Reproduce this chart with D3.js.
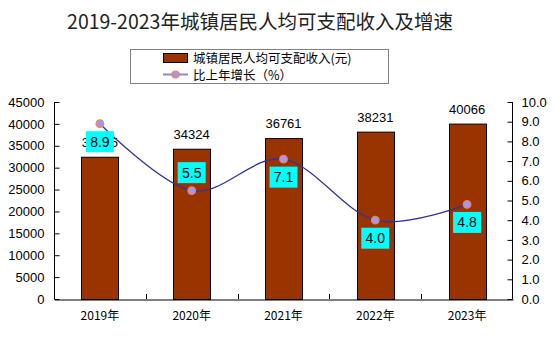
<!DOCTYPE html>
<html><head><meta charset="utf-8">
<script src="https://cdn.jsdelivr.net/npm/d3@7"></script>
<style>
html,body{margin:0;padding:0;background:#fff;}
svg{display:block;}
text{font-family:"Liberation Sans",Arial,"Noto Sans CJK SC",sans-serif;}
.cjk{font-family:"Noto Sans CJK SC","Liberation Sans",sans-serif;}
</style></head>
<body>
<script>
const categories = ["2019年","2020年","2021年","2022年","2023年"];
const incomeValues = [32495, 34324, 36761, 38231, 40066];
const growthValues = [8.9, 5.5, 7.1, 4.0, 4.8];
const leftTicks = [0,5000,10000,15000,20000,25000,30000,35000,40000,45000];
const rightTicks = [0,1,2,3,4,5,6,7,8,9,10];
const growthLabelPos = ["below","above","below","below","below"];
const titleText = "2019-2023年城镇居民人均可支配收入及增速";
const legendIncome = "城镇居民人均可支配收入(元)";
const legendGrowth = "比上年增长（%）";

const W = 555, H = 340;
const m = {left:54, right:42, top:102, bottom:41};
const svg = d3.select("body").append("svg").attr("width",W).attr("height",H);

const x = d3.scaleBand().domain(categories).range([m.left, W-m.right]).padding(0);
const yL = d3.scaleLinear().domain([0,45000]).range([H-m.bottom, m.top]);
const yR = d3.scaleLinear().domain([0,10]).range([H-m.bottom, m.top]);

// title
svg.append("text").attr("class","cjk").attr("x",260).attr("y",29)
  .attr("text-anchor","middle").attr("font-size",19.5).attr("fill","#222")
  .text(titleText);

// legend
const lg = svg.append("g");
lg.append("rect").attr("x",130.5).attr("y",49.5).attr("width",258).attr("height",34)
  .attr("fill","none").attr("stroke","#000").attr("stroke-dasharray","1,1");
lg.append("rect").attr("x",163.5).attr("y",53.5).attr("width",24).attr("height",9)
  .attr("fill","#993300").attr("stroke","#000");
lg.append("text").attr("class","cjk").attr("x",193).attr("y",62.5).attr("font-size",12.5).text(legendIncome);
lg.append("line").attr("x1",163).attr("x2",188).attr("y1",74.5).attr("y2",74.5)
  .attr("stroke","#8a86d6").attr("stroke-width",2);
lg.append("circle").attr("cx",175.5).attr("cy",74.5).attr("r",3.5)
  .attr("fill","#9999ff").attr("stroke","#ff7f3f").attr("stroke-width",1.2);
lg.append("text").attr("class","cjk").attr("x",193).attr("y",79.5).attr("font-size",12.5).text(legendGrowth);

// bars
const bw = 37;
svg.append("g").selectAll("rect").data(incomeValues).join("rect")
  .attr("x",(d,i)=>Math.round(x(categories[i])+x.bandwidth()/2-bw/2)+0.5)
  .attr("y",d=>yL(d)+0.5)
  .attr("width",bw)
  .attr("height",d=>yL(0)-yL(d))
  .attr("fill","#993300").attr("stroke","#000").attr("stroke-width",1);

// bar value labels
svg.append("g").selectAll("text").data(incomeValues).join("text")
  .attr("x",(d,i)=>x(categories[i])+x.bandwidth()/2)
  .attr("y",d=>yL(d)-10)
  .attr("text-anchor","middle").attr("font-size",13).attr("fill","#000")
  .text(d=>d);

// axes
const axL = d3.axisLeft(yL).tickValues(leftTicks).tickSize(-5).tickPadding(10).tickFormat(d3.format("d"));
const gL = svg.append("g").attr("transform",`translate(${m.left+0.5},0)`).call(axL);
const axR = d3.axisRight(yR).tickValues(rightTicks).tickSize(-5).tickPadding(9).tickFormat(d3.format(".1f"));
const gR = svg.append("g").attr("transform",`translate(${W-m.right-0.5},0)`).call(axR);
const axB = d3.axisBottom(x).tickSize(0).tickPadding(12);
const gB = svg.append("g").attr("transform",`translate(0,${H-m.bottom+0.5})`).call(axB);
[gL,gR,gB].forEach(g=>{
  g.select(".domain").attr("stroke","#000");
  g.selectAll(".tick line").attr("stroke","#000");
  g.selectAll("text").attr("font-size",13).attr("fill","#000");
});
gL.select(".domain").attr("d",`M0,${yL(45000)}V${yL(0)}`);
gR.select(".domain").attr("d",`M0,${yR(10)}V${yR(0)}`);
gB.selectAll("text").attr("class","cjk").attr("font-size",12);
// category boundary ticks pointing up
const bounds = categories.slice(1).map(c=>x(c));
svg.append("g").selectAll("line").data(bounds).join("line")
  .attr("x1",d=>Math.round(d)+0.5).attr("x2",d=>Math.round(d)+0.5)
  .attr("y1",H-m.bottom).attr("y2",H-m.bottom-5).attr("stroke","#000");

// growth line
const pts = growthValues.map((v,i)=>[x(categories[i])+x.bandwidth()/2, yR(v)]);
svg.append("path").attr("d",d3.line().curve(d3.curveCardinal.tension(0))(pts))
  .attr("fill","none").attr("stroke","#333399").attr("stroke-width",1.3);
svg.append("g").selectAll("circle").data(pts).join("circle")
  .attr("cx",d=>d[0]).attr("cy",d=>d[1]).attr("r",3.8)
  .attr("fill","#9999ff").attr("stroke","#ff7f3f").attr("stroke-width",1.2);

// growth labels
const lbl = svg.append("g").selectAll("g").data(growthValues).join("g")
  .attr("transform",(d,i)=>{
    const cx = pts[i][0], cy = pts[i][1];
    const ty = growthLabelPos[i]==="below" ? cy+18 : cy-18;
    return `translate(${cx},${ty})`;
  });
lbl.append("rect").attr("x",-14).attr("y",-10.5).attr("width",28).attr("height",21).attr("fill","#00ffff");
lbl.append("text").attr("text-anchor","middle").attr("y",5).attr("font-size",14).attr("fill","#000")
  .text(d=>d.toFixed(1));
</script>
</body></html>
